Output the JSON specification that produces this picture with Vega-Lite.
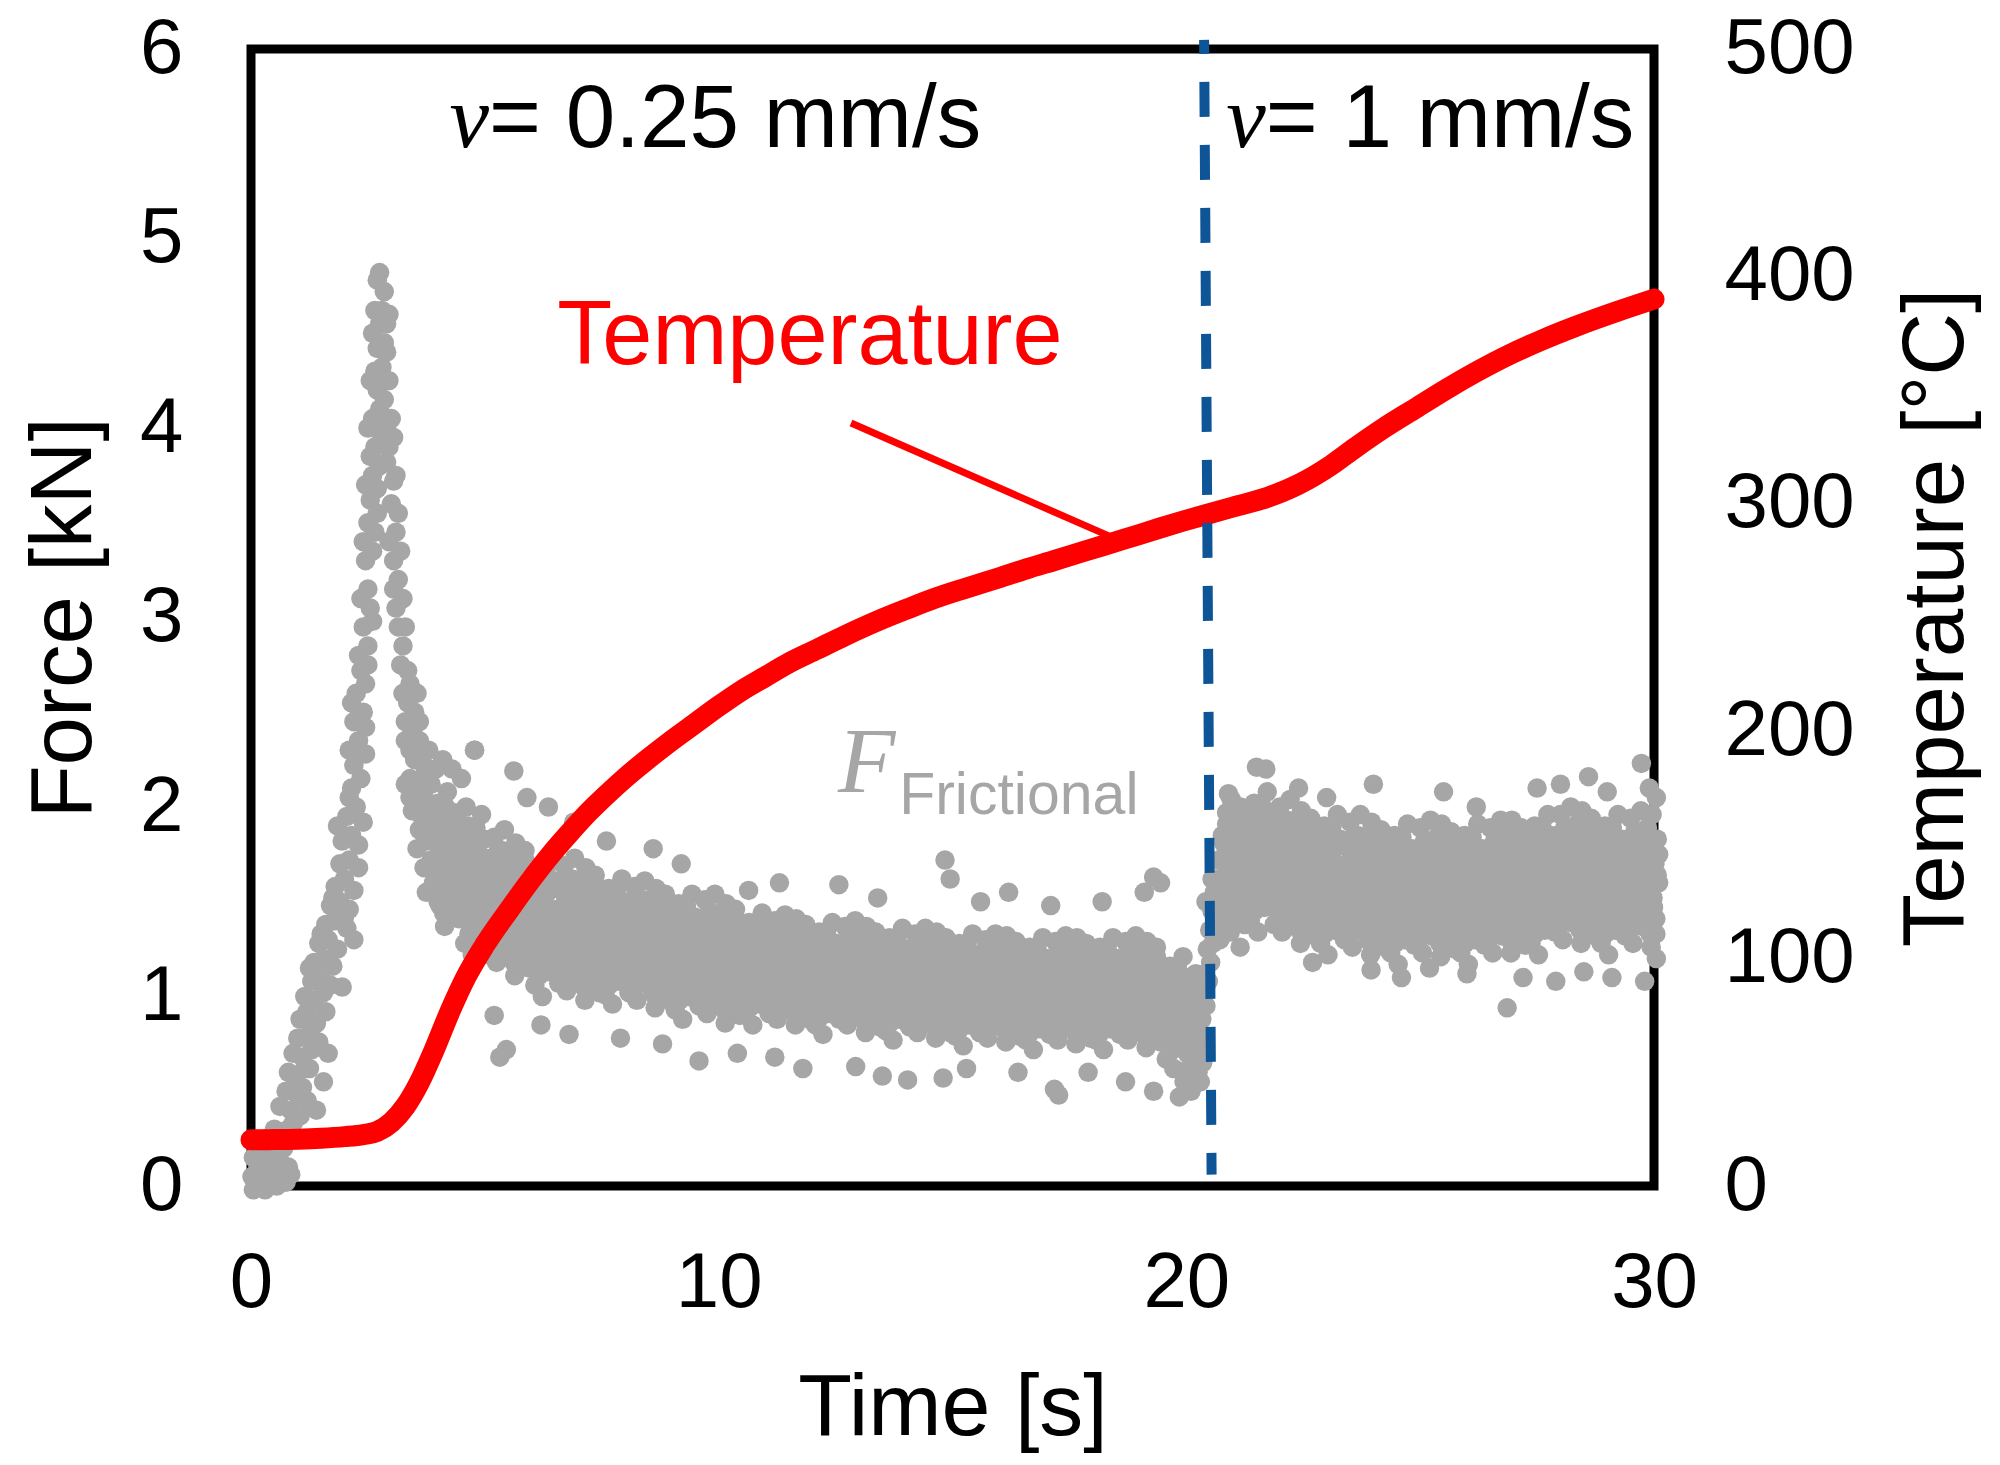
{
"$schema":"https://vega.github.io/schema/vega-lite/v6.json",
"width":1403,"height":1137,
"autosize":{"type":"none"},
"padding":{"left":251,"top":49,"right":346,"bottom":279},
"background":"white",
"config":{
"view":{"stroke":"#000000","strokeWidth":9},
"axis":{"domain":false,"ticks":false,"tickSize":0,"grid":false,"labelFont":"Liberation Sans","titleFont":"Liberation Sans","labelColor":"#000000","titleColor":"#000000","titleFontWeight":"normal","labelFontSize":78,"titleFontSize":87,"labelOverlap":false,"labelFlush":false}
},
"encoding":{
"x":{"field":"t","type":"quantitative","scale":{"domain":[0,30],"nice":false,"zero":false},"axis":{"values":[0,10,20,30],"title":"Time [s]","labelPadding":58,"titleFontSize":88,"titleX":701.5,"titleY":178.5,"titleBaseline":"top","titleAlign":"center"}}
},
"layer":[
{
"data":{"values":[
{"t":0.02,"f":0.05},{"t":0.05,"f":0.15},{"t":0.1,"f":0.02},{"t":0.15,"f":0.1},{"t":0.2,"f":0.2},{"t":0.25,"f":0.06},{"t":0.3,"f":-0.02},{"t":0.35,"f":0.12},{"t":0.4,"f":0.04},{"t":0.45,"f":0.18},{"t":0.5,"f":0.08},{"t":0.55,"f":0.0},{"t":0.6,"f":0.14},{"t":0.65,"f":0.05},{"t":0.7,"f":0.2},{"t":0.75,"f":0.02},{"t":0.8,"f":0.1},{"t":0.85,"f":0.06},{"t":0.12,"f":0.22},{"t":0.3,"f":0.25},{"t":0.6,"f":0.28},{"t":0.05,"f":-0.02},
{"t":0.5,"f":0.3},{"t":0.7,"f":0.26},{"t":0.9,"f":0.33},{"t":0.62,"f":0.42},{"t":0.85,"f":0.4},{"t":1.05,"f":0.37},{"t":0.75,"f":0.5},{"t":1.0,"f":0.48},{"t":1.2,"f":0.45},{"t":1.4,"f":0.4},
{"t":0.8,"f":0.6},{"t":0.95,"f":0.56},{"t":1.15,"f":0.62},{"t":1.55,"f":0.55},{"t":0.9,"f":0.7},{"t":1.1,"f":0.68},{"t":1.3,"f":0.72},{"t":1.65,"f":0.7},{"t":1.0,"f":0.78},{"t":1.25,"f":0.8},{"t":1.45,"f":0.76},
{"t":1.05,"f":0.88},{"t":1.2,"f":0.92},{"t":1.4,"f":0.86},{"t":1.15,"f":1.0},{"t":1.35,"f":0.98},{"t":1.55,"f":1.02},{"t":1.3,"f":1.08},{"t":1.5,"f":1.1},{"t":1.7,"f":1.06},{"t":1.95,"f":1.05},
{"t":1.35,"f":1.18},{"t":1.55,"f":1.2},{"t":1.75,"f":1.16},{"t":1.45,"f":1.28},{"t":1.65,"f":1.3},{"t":1.85,"f":1.25},{"t":1.6,"f":1.38},{"t":1.8,"f":1.4},{"t":2.05,"f":1.36},{"t":2.2,"f":1.3},
{"t":1.7,"f":1.48},{"t":1.9,"f":1.5},{"t":2.1,"f":1.46},{"t":1.8,"f":1.58},{"t":2.0,"f":1.62},{"t":2.2,"f":1.56},{"t":1.9,"f":1.7},{"t":2.1,"f":1.72},{"t":2.3,"f":1.68},
{"t":1.95,"f":1.82},{"t":2.15,"f":1.85},{"t":2.3,"f":1.8},{"t":2.05,"f":1.95},{"t":2.25,"f":2.0},{"t":2.4,"f":1.92},{"t":2.15,"f":2.1},{"t":2.35,"f":2.15},{"t":2.2,"f":2.22},
{"t":2.1,"f":2.3},{"t":2.3,"f":2.35},{"t":2.45,"f":2.28},{"t":2.2,"f":2.45},{"t":2.4,"f":2.5},{"t":2.25,"f":2.6},{"t":2.45,"f":2.65},{"t":2.35,"f":2.72},
{"t":2.3,"f":2.8},{"t":2.5,"f":2.85},{"t":2.4,"f":2.95},{"t":2.6,"f":2.98},
{"t":2.35,"f":3.1},{"t":2.5,"f":3.15},{"t":2.45,"f":3.3},{"t":2.6,"f":3.35},{"t":2.5,"f":3.5},{"t":2.55,"f":3.62},{"t":2.7,"f":3.55},
{"t":2.6,"f":3.75},{"t":2.75,"f":3.8},{"t":2.65,"f":3.9},{"t":2.8,"f":3.95},{"t":2.6,"f":4.05},{"t":2.75,"f":4.1},{"t":2.7,"f":4.2},{"t":2.85,"f":4.15},{"t":2.65,"f":4.3},{"t":2.8,"f":4.32},{"t":2.7,"f":4.42},{"t":2.85,"f":4.45},{"t":2.75,"f":4.55},{"t":2.8,"f":4.62},{"t":2.7,"f":4.78},{"t":2.75,"f":4.82},{"t":2.5,"f":4.0},{"t":2.55,"f":4.25},
{"t":0.55,"f":0.2},{"t":0.8,"f":0.3},{"t":1.1,"f":0.52},{"t":1.25,"f":0.62},{"t":1.35,"f":0.85},{"t":1.6,"f":0.92},{"t":1.25,"f":1.15},{"t":1.5,"f":1.33},{"t":1.75,"f":1.52},{"t":2.0,"f":1.42},{"t":1.85,"f":1.9},{"t":2.1,"f":2.05},{"t":2.3,"f":2.48},{"t":2.45,"f":2.42},{"t":2.15,"f":2.55},{"t":2.5,"f":2.75},{"t":2.55,"f":3.05},{"t":2.4,"f":3.4},{"t":2.65,"f":3.45},{"t":2.45,"f":3.7},{"t":2.55,"f":3.85},{"t":2.7,"f":3.68},{"t":2.9,"f":4.0},{"t":2.6,"f":4.5},{"t":2.9,"f":4.55},{"t":2.65,"f":4.62},{"t":2.85,"f":4.72},{"t":2.95,"f":4.6},
{"t":2.9,"f":4.4},{"t":2.95,"f":4.25},{"t":3.0,"f":4.05},{"t":2.95,"f":3.9},{"t":3.05,"f":3.72},{"t":2.9,"f":3.82},
{"t":3.0,"f":3.6},{"t":3.1,"f":3.45},{"t":3.05,"f":3.3},{"t":3.15,"f":3.2},{"t":3.1,"f":3.05},{"t":2.95,"f":3.4},
{"t":3.15,"f":2.95},{"t":3.25,"f":2.85},{"t":3.2,"f":2.75},{"t":3.35,"f":2.72},
{"t":3.25,"f":2.6},{"t":3.35,"f":2.55},{"t":3.3,"f":2.45},{"t":3.45,"f":2.4},{"t":3.4,"f":2.3},{"t":3.6,"f":2.35},{"t":3.5,"f":2.25},{"t":3.7,"f":2.22},{"t":3.3,"f":2.35},
{"t":3.4,"f":2.15},{"t":3.55,"f":2.1},{"t":3.7,"f":2.05},{"t":3.85,"f":2.12},{"t":3.5,"f":2.0},{"t":3.65,"f":1.95},{"t":3.8,"f":1.98},{"t":4.0,"f":2.02},{"t":4.2,"f":2.08},{"t":4.05,"f":1.92},{"t":4.4,"f":1.95},{"t":4.6,"f":2.0},{"t":4.78,"f":2.3},{"t":4.3,"f":2.2},{"t":3.95,"f":2.2},
{"t":3.3,"f":2.12},{"t":3.45,"f":1.98},{"t":3.6,"f":1.88},{"t":3.75,"f":1.82},{"t":3.85,"f":1.72},{"t":3.95,"f":1.65},{"t":3.55,"f":1.78},{"t":3.7,"f":1.68},{"t":3.4,"f":2.05},{"t":3.65,"f":2.15},{"t":3.8,"f":2.0},{"t":3.9,"f":1.9},{"t":4.0,"f":1.8},{"t":3.75,"f":1.55},
{"t":3.05,"f":3.95},{"t":3.1,"f":3.75},{"t":3.15,"f":3.55},{"t":3.2,"f":3.35},{"t":3.25,"f":3.1},{"t":3.3,"f":2.95},{"t":3.05,"f":3.15},{"t":3.4,"f":2.65},{"t":3.5,"f":2.5},{"t":3.55,"f":2.6},{"t":3.6,"f":2.45},{"t":3.8,"f":2.3},{"t":4.1,"f":2.25},{"t":4.5,"f":2.15},{"t":4.2,"f":1.45},{"t":4.0,"f":1.5},{"t":3.9,"f":1.6},
{"t":4.01,"f":1.73},{"t":4.04,"f":1.48},{"t":4.06,"f":1.94},{"t":4.09,"f":1.63},{"t":4.11,"f":1.82},{"t":4.14,"f":1.37},{"t":4.16,"f":2.0},{"t":4.19,"f":1.56},{"t":4.22,"f":1.77},{"t":4.24,"f":1.44},{"t":4.27,"f":1.88},{"t":4.3,"f":1.68},{"t":4.33,"f":1.53},{"t":4.36,"f":1.97},{"t":4.39,"f":1.61},{"t":4.42,"f":1.83},{"t":4.45,"f":1.41},{"t":4.48,"f":1.78},
{"t":4.52,"f":1.49},{"t":4.55,"f":1.79},{"t":4.57,"f":1.28},{"t":4.6,"f":1.68},{"t":4.63,"f":1.58},{"t":4.65,"f":1.9},{"t":4.68,"f":1.39},{"t":4.71,"f":1.73},{"t":4.73,"f":1.22},{"t":4.76,"f":1.62},{"t":4.79,"f":1.85},{"t":4.82,"f":1.51},{"t":4.84,"f":1.77},{"t":4.87,"f":1.35},{"t":4.9,"f":1.66},{"t":4.93,"f":1.96},{"t":4.96,"f":1.45},{"t":4.99,"f":1.83},
{"t":5.0,"f":1.73},{"t":5.03,"f":1.44},{"t":5.06,"f":1.61},{"t":5.08,"f":1.22},{"t":5.11,"f":1.5},{"t":5.14,"f":1.71},{"t":5.17,"f":1.35},{"t":5.2,"f":1.84},{"t":5.22,"f":1.46},{"t":5.25,"f":1.18},{"t":5.28,"f":1.65},{"t":5.31,"f":1.31},{"t":5.34,"f":1.58},{"t":5.36,"f":1.77},{"t":5.39,"f":1.39},{"t":5.42,"f":1.88},{"t":5.45,"f":1.27},{"t":5.48,"f":1.54},
{"t":5.51,"f":1.51},{"t":5.54,"f":1.22},{"t":5.56,"f":1.74},{"t":5.59,"f":1.39},{"t":5.61,"f":1.6},{"t":5.64,"f":1.11},{"t":5.66,"f":1.81},{"t":5.69,"f":1.32},{"t":5.72,"f":1.55},{"t":5.74,"f":1.18},{"t":5.77,"f":1.68},{"t":5.8,"f":1.45},{"t":5.83,"f":1.28},{"t":5.86,"f":1.77},{"t":5.89,"f":1.37},{"t":5.92,"f":1.62},{"t":5.95,"f":1.15},{"t":5.98,"f":1.56},
{"t":6.02,"f":1.27},{"t":6.05,"f":1.57},{"t":6.07,"f":1.06},{"t":6.1,"f":1.46},{"t":6.13,"f":1.36},{"t":6.15,"f":1.68},{"t":6.18,"f":1.17},{"t":6.21,"f":1.51},{"t":6.23,"f":1.0},{"t":6.26,"f":1.4},{"t":6.29,"f":1.63},{"t":6.32,"f":1.29},{"t":6.34,"f":1.55},{"t":6.37,"f":1.13},{"t":6.4,"f":1.44},{"t":6.43,"f":1.74},{"t":6.46,"f":1.23},{"t":6.49,"f":1.61},
{"t":6.5,"f":1.58},{"t":6.53,"f":1.29},{"t":6.56,"f":1.46},{"t":6.58,"f":1.07},{"t":6.61,"f":1.35},{"t":6.64,"f":1.56},{"t":6.67,"f":1.2},{"t":6.7,"f":1.69},{"t":6.72,"f":1.31},{"t":6.75,"f":1.03},{"t":6.78,"f":1.5},{"t":6.81,"f":1.16},{"t":6.84,"f":1.43},{"t":6.86,"f":1.62},{"t":6.89,"f":1.24},{"t":6.92,"f":1.73},{"t":6.95,"f":1.12},{"t":6.98,"f":1.39},
{"t":7.01,"f":1.38},{"t":7.04,"f":1.09},{"t":7.06,"f":1.61},{"t":7.09,"f":1.26},{"t":7.11,"f":1.47},{"t":7.14,"f":0.98},{"t":7.16,"f":1.68},{"t":7.19,"f":1.19},{"t":7.22,"f":1.42},{"t":7.24,"f":1.05},{"t":7.27,"f":1.55},{"t":7.3,"f":1.32},{"t":7.33,"f":1.15},{"t":7.36,"f":1.64},{"t":7.39,"f":1.24},{"t":7.42,"f":1.49},{"t":7.45,"f":1.02},{"t":7.48,"f":1.43},
{"t":7.52,"f":1.2},{"t":7.55,"f":1.47},{"t":7.57,"f":1.01},{"t":7.6,"f":1.37},{"t":7.63,"f":1.28},{"t":7.65,"f":1.57},{"t":7.68,"f":1.11},{"t":7.71,"f":1.42},{"t":7.73,"f":0.96},{"t":7.76,"f":1.32},{"t":7.79,"f":1.52},{"t":7.82,"f":1.22},{"t":7.84,"f":1.45},{"t":7.87,"f":1.08},{"t":7.9,"f":1.35},{"t":7.93,"f":1.62},{"t":7.96,"f":1.16},{"t":7.99,"f":1.5},
{"t":8.0,"f":1.47},{"t":8.03,"f":1.22},{"t":8.06,"f":1.37},{"t":8.08,"f":1.02},{"t":8.11,"f":1.27},{"t":8.14,"f":1.46},{"t":8.17,"f":1.13},{"t":8.2,"f":1.58},{"t":8.22,"f":1.24},{"t":8.25,"f":0.98},{"t":8.28,"f":1.41},{"t":8.31,"f":1.1},{"t":8.34,"f":1.34},{"t":8.36,"f":1.51},{"t":8.39,"f":1.17},{"t":8.42,"f":1.61},{"t":8.45,"f":1.07},{"t":8.48,"f":1.3},
{"t":8.51,"f":1.3},{"t":8.54,"f":1.05},{"t":8.56,"f":1.51},{"t":8.59,"f":1.2},{"t":8.61,"f":1.39},{"t":8.64,"f":0.94},{"t":8.66,"f":1.57},{"t":8.69,"f":1.13},{"t":8.72,"f":1.34},{"t":8.74,"f":1.01},{"t":8.77,"f":1.45},{"t":8.8,"f":1.25},{"t":8.83,"f":1.1},{"t":8.86,"f":1.54},{"t":8.89,"f":1.18},{"t":8.92,"f":1.4},{"t":8.95,"f":0.98},{"t":8.98,"f":1.35},
{"t":9.02,"f":1.12},{"t":9.05,"f":1.39},{"t":9.07,"f":0.93},{"t":9.1,"f":1.29},{"t":9.13,"f":1.2},{"t":9.15,"f":1.49},{"t":9.18,"f":1.03},{"t":9.21,"f":1.34},{"t":9.23,"f":0.88},{"t":9.26,"f":1.24},{"t":9.29,"f":1.44},{"t":9.32,"f":1.14},{"t":9.34,"f":1.37},{"t":9.37,"f":1.0},{"t":9.4,"f":1.27},{"t":9.43,"f":1.54},{"t":9.46,"f":1.08},{"t":9.49,"f":1.42},
{"t":9.5,"f":1.4},{"t":9.53,"f":1.15},{"t":9.56,"f":1.3},{"t":9.58,"f":0.95},{"t":9.61,"f":1.2},{"t":9.64,"f":1.39},{"t":9.67,"f":1.06},{"t":9.7,"f":1.51},{"t":9.72,"f":1.17},{"t":9.75,"f":0.91},{"t":9.78,"f":1.34},{"t":9.81,"f":1.03},{"t":9.84,"f":1.27},{"t":9.86,"f":1.44},{"t":9.89,"f":1.1},{"t":9.92,"f":1.54},{"t":9.95,"f":1.0},{"t":9.98,"f":1.23},
{"t":10.01,"f":1.22},{"t":10.04,"f":0.97},{"t":10.06,"f":1.43},{"t":10.09,"f":1.12},{"t":10.11,"f":1.31},{"t":10.14,"f":0.86},{"t":10.16,"f":1.49},{"t":10.19,"f":1.05},{"t":10.22,"f":1.26},{"t":10.24,"f":0.93},{"t":10.27,"f":1.37},{"t":10.3,"f":1.17},{"t":10.33,"f":1.02},{"t":10.36,"f":1.46},{"t":10.39,"f":1.1},{"t":10.42,"f":1.32},{"t":10.45,"f":0.9},{"t":10.48,"f":1.27},
{"t":10.52,"f":1.06},{"t":10.55,"f":1.3},{"t":10.57,"f":0.9},{"t":10.6,"f":1.21},{"t":10.63,"f":1.14},{"t":10.65,"f":1.39},{"t":10.68,"f":0.99},{"t":10.71,"f":1.26},{"t":10.73,"f":0.85},{"t":10.76,"f":1.17},{"t":10.79,"f":1.35},{"t":10.82,"f":1.08},{"t":10.84,"f":1.29},{"t":10.87,"f":0.96},{"t":10.9,"f":1.2},{"t":10.93,"f":1.44},{"t":10.96,"f":1.03},{"t":10.99,"f":1.33},
{"t":11.0,"f":1.31},{"t":11.03,"f":1.09},{"t":11.06,"f":1.22},{"t":11.08,"f":0.91},{"t":11.11,"f":1.13},{"t":11.14,"f":1.3},{"t":11.17,"f":1.01},{"t":11.2,"f":1.4},{"t":11.22,"f":1.1},{"t":11.25,"f":0.88},{"t":11.28,"f":1.25},{"t":11.31,"f":0.98},{"t":11.34,"f":1.19},{"t":11.36,"f":1.34},{"t":11.39,"f":1.04},{"t":11.42,"f":1.43},{"t":11.45,"f":0.95},{"t":11.48,"f":1.16},
{"t":11.51,"f":1.17},{"t":11.54,"f":0.94},{"t":11.56,"f":1.35},{"t":11.59,"f":1.08},{"t":11.61,"f":1.24},{"t":11.64,"f":0.85},{"t":11.66,"f":1.41},{"t":11.69,"f":1.02},{"t":11.72,"f":1.2},{"t":11.74,"f":0.91},{"t":11.77,"f":1.3},{"t":11.8,"f":1.12},{"t":11.83,"f":0.99},{"t":11.86,"f":1.38},{"t":11.89,"f":1.06},{"t":11.92,"f":1.26},{"t":11.95,"f":0.88},{"t":11.98,"f":1.21},
{"t":12.02,"f":1.01},{"t":12.05,"f":1.25},{"t":12.07,"f":0.85},{"t":12.1,"f":1.16},{"t":12.13,"f":1.09},{"t":12.15,"f":1.34},{"t":12.18,"f":0.94},{"t":12.21,"f":1.21},{"t":12.23,"f":0.8},{"t":12.26,"f":1.12},{"t":12.29,"f":1.3},{"t":12.32,"f":1.03},{"t":12.34,"f":1.24},{"t":12.37,"f":0.91},{"t":12.4,"f":1.15},{"t":12.43,"f":1.39},{"t":12.46,"f":0.98},{"t":12.49,"f":1.28},
{"t":12.5,"f":1.28},{"t":12.53,"f":1.06},{"t":12.56,"f":1.19},{"t":12.58,"f":0.88},{"t":12.61,"f":1.1},{"t":12.64,"f":1.27},{"t":12.67,"f":0.98},{"t":12.7,"f":1.37},{"t":12.72,"f":1.07},{"t":12.75,"f":0.85},{"t":12.78,"f":1.22},{"t":12.81,"f":0.95},{"t":12.84,"f":1.16},{"t":12.86,"f":1.31},{"t":12.89,"f":1.01},{"t":12.92,"f":1.4},{"t":12.95,"f":0.92},{"t":12.98,"f":1.13},
{"t":13.01,"f":1.13},{"t":13.04,"f":0.9},{"t":13.06,"f":1.31},{"t":13.09,"f":1.04},{"t":13.11,"f":1.2},{"t":13.14,"f":0.81},{"t":13.16,"f":1.37},{"t":13.19,"f":0.98},{"t":13.22,"f":1.16},{"t":13.24,"f":0.87},{"t":13.27,"f":1.26},{"t":13.3,"f":1.08},{"t":13.33,"f":0.95},{"t":13.36,"f":1.34},{"t":13.39,"f":1.02},{"t":13.42,"f":1.22},{"t":13.45,"f":0.84},{"t":13.48,"f":1.17},
{"t":13.52,"f":0.98},{"t":13.55,"f":1.22},{"t":13.57,"f":0.82},{"t":13.6,"f":1.13},{"t":13.63,"f":1.06},{"t":13.65,"f":1.31},{"t":13.68,"f":0.91},{"t":13.71,"f":1.18},{"t":13.73,"f":0.77},{"t":13.76,"f":1.09},{"t":13.79,"f":1.27},{"t":13.82,"f":1.0},{"t":13.84,"f":1.21},{"t":13.87,"f":0.88},{"t":13.9,"f":1.12},{"t":13.93,"f":1.36},{"t":13.96,"f":0.95},{"t":13.99,"f":1.25},
{"t":14.0,"f":1.24},{"t":14.03,"f":1.02},{"t":14.06,"f":1.15},{"t":14.08,"f":0.84},{"t":14.11,"f":1.06},{"t":14.14,"f":1.23},{"t":14.17,"f":0.94},{"t":14.2,"f":1.33},{"t":14.22,"f":1.03},{"t":14.25,"f":0.81},{"t":14.28,"f":1.18},{"t":14.31,"f":0.91},{"t":14.34,"f":1.12},{"t":14.36,"f":1.27},{"t":14.39,"f":0.97},{"t":14.42,"f":1.36},{"t":14.45,"f":0.88},{"t":14.48,"f":1.09},
{"t":14.51,"f":1.1},{"t":14.54,"f":0.87},{"t":14.56,"f":1.28},{"t":14.59,"f":1.01},{"t":14.61,"f":1.17},{"t":14.64,"f":0.78},{"t":14.66,"f":1.34},{"t":14.69,"f":0.95},{"t":14.72,"f":1.13},{"t":14.74,"f":0.84},{"t":14.77,"f":1.23},{"t":14.8,"f":1.05},{"t":14.83,"f":0.92},{"t":14.86,"f":1.31},{"t":14.89,"f":0.99},{"t":14.92,"f":1.19},{"t":14.95,"f":0.81},{"t":14.98,"f":1.14},
{"t":15.02,"f":0.95},{"t":15.05,"f":1.19},{"t":15.07,"f":0.79},{"t":15.1,"f":1.1},{"t":15.13,"f":1.03},{"t":15.15,"f":1.28},{"t":15.18,"f":0.88},{"t":15.21,"f":1.15},{"t":15.23,"f":0.74},{"t":15.26,"f":1.06},{"t":15.29,"f":1.24},{"t":15.32,"f":0.97},{"t":15.34,"f":1.18},{"t":15.37,"f":0.85},{"t":15.4,"f":1.09},{"t":15.43,"f":1.33},{"t":15.46,"f":0.92},{"t":15.49,"f":1.22},
{"t":15.5,"f":1.21},{"t":15.53,"f":0.99},{"t":15.56,"f":1.12},{"t":15.58,"f":0.81},{"t":15.61,"f":1.03},{"t":15.64,"f":1.2},{"t":15.67,"f":0.91},{"t":15.7,"f":1.3},{"t":15.72,"f":1.0},{"t":15.75,"f":0.78},{"t":15.78,"f":1.15},{"t":15.81,"f":0.88},{"t":15.84,"f":1.09},{"t":15.86,"f":1.24},{"t":15.89,"f":0.94},{"t":15.92,"f":1.33},{"t":15.95,"f":0.85},{"t":15.98,"f":1.06},
{"t":16.01,"f":1.08},{"t":16.04,"f":0.85},{"t":16.06,"f":1.26},{"t":16.09,"f":0.99},{"t":16.11,"f":1.15},{"t":16.14,"f":0.76},{"t":16.16,"f":1.32},{"t":16.19,"f":0.93},{"t":16.22,"f":1.11},{"t":16.24,"f":0.82},{"t":16.27,"f":1.21},{"t":16.3,"f":1.03},{"t":16.33,"f":0.9},{"t":16.36,"f":1.29},{"t":16.39,"f":0.97},{"t":16.42,"f":1.17},{"t":16.45,"f":0.79},{"t":16.48,"f":1.12},
{"t":16.52,"f":0.93},{"t":16.55,"f":1.17},{"t":16.57,"f":0.77},{"t":16.6,"f":1.08},{"t":16.63,"f":1.01},{"t":16.65,"f":1.26},{"t":16.68,"f":0.86},{"t":16.71,"f":1.13},{"t":16.73,"f":0.72},{"t":16.76,"f":1.04},{"t":16.79,"f":1.22},{"t":16.82,"f":0.95},{"t":16.84,"f":1.16},{"t":16.87,"f":0.83},{"t":16.9,"f":1.07},{"t":16.93,"f":1.31},{"t":16.96,"f":0.9},{"t":16.99,"f":1.2},
{"t":17.0,"f":1.2},{"t":17.03,"f":0.98},{"t":17.06,"f":1.11},{"t":17.08,"f":0.8},{"t":17.11,"f":1.02},{"t":17.14,"f":1.19},{"t":17.17,"f":0.9},{"t":17.2,"f":1.29},{"t":17.22,"f":0.99},{"t":17.25,"f":0.77},{"t":17.28,"f":1.14},{"t":17.31,"f":0.87},{"t":17.34,"f":1.08},{"t":17.36,"f":1.23},{"t":17.39,"f":0.93},{"t":17.42,"f":1.32},{"t":17.45,"f":0.84},{"t":17.48,"f":1.05},
{"t":17.51,"f":1.07},{"t":17.54,"f":0.84},{"t":17.56,"f":1.25},{"t":17.59,"f":0.98},{"t":17.61,"f":1.14},{"t":17.64,"f":0.75},{"t":17.66,"f":1.31},{"t":17.69,"f":0.92},{"t":17.72,"f":1.1},{"t":17.74,"f":0.81},{"t":17.77,"f":1.2},{"t":17.8,"f":1.02},{"t":17.83,"f":0.89},{"t":17.86,"f":1.28},{"t":17.89,"f":0.96},{"t":17.92,"f":1.16},{"t":17.95,"f":0.78},{"t":17.98,"f":1.11},
{"t":18.02,"f":0.93},{"t":18.05,"f":1.17},{"t":18.07,"f":0.77},{"t":18.1,"f":1.08},{"t":18.13,"f":1.01},{"t":18.15,"f":1.26},{"t":18.18,"f":0.86},{"t":18.21,"f":1.13},{"t":18.23,"f":0.72},{"t":18.26,"f":1.04},{"t":18.29,"f":1.22},{"t":18.32,"f":0.95},{"t":18.34,"f":1.16},{"t":18.37,"f":0.83},{"t":18.4,"f":1.07},{"t":18.43,"f":1.31},{"t":18.46,"f":0.9},{"t":18.49,"f":1.2},
{"t":18.5,"f":1.2},{"t":18.53,"f":0.98},{"t":18.56,"f":1.11},{"t":18.58,"f":0.8},{"t":18.61,"f":1.02},{"t":18.64,"f":1.19},{"t":18.67,"f":0.9},{"t":18.7,"f":1.29},{"t":18.72,"f":0.99},{"t":18.75,"f":0.77},{"t":18.78,"f":1.14},{"t":18.81,"f":0.87},{"t":18.84,"f":1.08},{"t":18.86,"f":1.23},{"t":18.89,"f":0.93},{"t":18.92,"f":1.32},{"t":18.95,"f":0.84},{"t":18.98,"f":1.05},
{"t":19.01,"f":1.05},{"t":19.04,"f":0.82},{"t":19.06,"f":1.23},{"t":19.09,"f":0.96},{"t":19.11,"f":1.12},{"t":19.14,"f":0.73},{"t":19.16,"f":1.29},{"t":19.19,"f":0.9},{"t":19.22,"f":1.08},{"t":19.24,"f":0.79},{"t":19.27,"f":1.18},{"t":19.3,"f":1.0},{"t":19.33,"f":0.87},{"t":19.36,"f":1.26},{"t":19.39,"f":0.94},{"t":19.42,"f":1.14},{"t":19.45,"f":0.76},{"t":19.48,"f":1.09},
{"t":19.52,"f":0.83},{"t":19.55,"f":1.07},{"t":19.57,"f":0.67},{"t":19.6,"f":0.98},{"t":19.63,"f":0.91},{"t":19.65,"f":1.16},{"t":19.68,"f":0.76},{"t":19.71,"f":1.03},{"t":19.73,"f":0.62},{"t":19.76,"f":0.94},{"t":19.79,"f":1.12},{"t":19.82,"f":0.85},{"t":19.84,"f":1.06},{"t":19.87,"f":0.73},{"t":19.9,"f":0.97},{"t":19.93,"f":1.21},{"t":19.96,"f":0.8},{"t":19.99,"f":1.1},
{"t":20.0,"f":1.03},{"t":20.03,"f":0.81},{"t":20.06,"f":0.94},{"t":20.08,"f":0.63},{"t":20.11,"f":0.85},{"t":20.14,"f":1.02},{"t":20.17,"f":0.73},{"t":20.2,"f":1.12},{"t":20.22,"f":0.82},{"t":20.25,"f":0.6},{"t":20.28,"f":0.97},{"t":20.31,"f":0.7},
{"t":20.33,"f":0.88},{"t":20.36,"f":1.02},{"t":20.38,"f":0.78},{"t":20.4,"f":1.12},{"t":20.42,"f":0.95},{"t":20.45,"f":1.25},{"t":20.47,"f":1.08},{"t":20.5,"f":1.35},{"t":20.52,"f":1.18},{"t":20.55,"f":1.45},{"t":20.57,"f":1.28},{"t":20.6,"f":1.55},{"t":20.62,"f":1.38},{"t":20.65,"f":1.62},{"t":20.68,"f":1.48},{"t":20.7,"f":1.72},{"t":20.72,"f":1.3},{"t":20.75,"f":1.58},{"t":20.77,"f":1.85},{"t":20.42,"f":1.5},{"t":20.3,"f":0.55},{"t":20.35,"f":0.65},{"t":20.55,"f":1.62},
{"t":20.81,"f":1.74},{"t":20.84,"f":1.45},{"t":20.86,"f":1.97},{"t":20.89,"f":1.62},{"t":20.91,"f":1.83},{"t":20.94,"f":1.34},{"t":20.96,"f":2.04},{"t":20.99,"f":1.55},{"t":21.02,"f":1.78},{"t":21.04,"f":1.41},{"t":21.07,"f":1.91},{"t":21.1,"f":1.68},{"t":21.13,"f":1.51},{"t":21.16,"f":2.0},{"t":21.19,"f":1.6},{"t":21.22,"f":1.85},{"t":21.25,"f":1.38},{"t":21.28,"f":1.79},
{"t":21.32,"f":1.61},{"t":21.35,"f":1.91},{"t":21.37,"f":1.4},{"t":21.4,"f":1.8},{"t":21.43,"f":1.7},{"t":21.45,"f":2.02},{"t":21.48,"f":1.51},{"t":21.51,"f":1.85},{"t":21.53,"f":1.34},{"t":21.56,"f":1.74},{"t":21.59,"f":1.97},{"t":21.62,"f":1.63},{"t":21.64,"f":1.89},{"t":21.67,"f":1.47},{"t":21.7,"f":1.78},{"t":21.73,"f":2.08},{"t":21.76,"f":1.57},{"t":21.79,"f":1.95},
{"t":21.8,"f":1.89},{"t":21.83,"f":1.6},{"t":21.86,"f":1.77},{"t":21.88,"f":1.38},{"t":21.91,"f":1.66},{"t":21.94,"f":1.87},{"t":21.97,"f":1.51},{"t":22.0,"f":2.0},{"t":22.02,"f":1.62},{"t":22.05,"f":1.34},{"t":22.08,"f":1.81},{"t":22.11,"f":1.47},{"t":22.14,"f":1.74},{"t":22.16,"f":1.93},{"t":22.19,"f":1.55},{"t":22.22,"f":2.04},{"t":22.25,"f":1.43},{"t":22.28,"f":1.7},
{"t":22.31,"f":1.68},{"t":22.34,"f":1.39},{"t":22.36,"f":1.91},{"t":22.39,"f":1.56},{"t":22.41,"f":1.77},{"t":22.44,"f":1.28},{"t":22.46,"f":1.98},{"t":22.49,"f":1.49},{"t":22.52,"f":1.72},{"t":22.54,"f":1.35},{"t":22.57,"f":1.85},{"t":22.6,"f":1.62},{"t":22.63,"f":1.45},{"t":22.66,"f":1.94},{"t":22.69,"f":1.54},{"t":22.72,"f":1.79},{"t":22.75,"f":1.32},{"t":22.78,"f":1.73},
{"t":22.82,"f":1.49},{"t":22.85,"f":1.79},{"t":22.87,"f":1.28},{"t":22.9,"f":1.68},{"t":22.93,"f":1.58},{"t":22.95,"f":1.9},{"t":22.98,"f":1.39},{"t":23.01,"f":1.73},{"t":23.03,"f":1.22},{"t":23.06,"f":1.62},{"t":23.09,"f":1.85},{"t":23.12,"f":1.51},{"t":23.14,"f":1.77},{"t":23.17,"f":1.35},{"t":23.2,"f":1.66},{"t":23.23,"f":1.96},{"t":23.26,"f":1.45},{"t":23.29,"f":1.83},
{"t":23.3,"f":1.81},{"t":23.33,"f":1.52},{"t":23.36,"f":1.69},{"t":23.38,"f":1.3},{"t":23.41,"f":1.58},{"t":23.44,"f":1.79},{"t":23.47,"f":1.43},{"t":23.5,"f":1.92},{"t":23.52,"f":1.54},{"t":23.55,"f":1.26},{"t":23.58,"f":1.73},{"t":23.61,"f":1.39},{"t":23.64,"f":1.66},{"t":23.66,"f":1.85},{"t":23.69,"f":1.47},{"t":23.72,"f":1.96},{"t":23.75,"f":1.35},{"t":23.78,"f":1.62},
{"t":23.81,"f":1.62},{"t":23.84,"f":1.33},{"t":23.86,"f":1.85},{"t":23.89,"f":1.5},{"t":23.91,"f":1.71},{"t":23.94,"f":1.22},{"t":23.96,"f":1.92},{"t":23.99,"f":1.43},{"t":24.02,"f":1.66},{"t":24.04,"f":1.29},{"t":24.07,"f":1.79},{"t":24.1,"f":1.56},{"t":24.13,"f":1.39},{"t":24.16,"f":1.88},{"t":24.19,"f":1.48},{"t":24.22,"f":1.73},{"t":24.25,"f":1.26},{"t":24.28,"f":1.67},
{"t":24.32,"f":1.44},{"t":24.35,"f":1.74},{"t":24.37,"f":1.23},{"t":24.4,"f":1.63},{"t":24.43,"f":1.53},{"t":24.45,"f":1.85},{"t":24.48,"f":1.34},{"t":24.51,"f":1.68},{"t":24.53,"f":1.17},{"t":24.56,"f":1.57},{"t":24.59,"f":1.8},{"t":24.62,"f":1.46},{"t":24.64,"f":1.72},{"t":24.67,"f":1.3},{"t":24.7,"f":1.61},{"t":24.73,"f":1.91},{"t":24.76,"f":1.4},{"t":24.79,"f":1.78},
{"t":24.8,"f":1.78},{"t":24.83,"f":1.49},{"t":24.86,"f":1.66},{"t":24.88,"f":1.27},{"t":24.91,"f":1.55},{"t":24.94,"f":1.76},{"t":24.97,"f":1.4},{"t":25.0,"f":1.89},{"t":25.02,"f":1.51},{"t":25.05,"f":1.23},{"t":25.08,"f":1.7},{"t":25.11,"f":1.36},{"t":25.14,"f":1.63},{"t":25.16,"f":1.82},{"t":25.19,"f":1.44},{"t":25.22,"f":1.93},{"t":25.25,"f":1.32},{"t":25.28,"f":1.59},
{"t":25.31,"f":1.61},{"t":25.34,"f":1.32},{"t":25.36,"f":1.84},{"t":25.39,"f":1.49},{"t":25.41,"f":1.7},{"t":25.44,"f":1.21},{"t":25.46,"f":1.91},{"t":25.49,"f":1.42},{"t":25.52,"f":1.65},{"t":25.54,"f":1.28},{"t":25.57,"f":1.78},{"t":25.6,"f":1.55},{"t":25.63,"f":1.38},{"t":25.66,"f":1.87},{"t":25.69,"f":1.47},{"t":25.72,"f":1.72},{"t":25.75,"f":1.25},{"t":25.78,"f":1.66},
{"t":25.82,"f":1.44},{"t":25.85,"f":1.74},{"t":25.87,"f":1.23},{"t":25.9,"f":1.63},{"t":25.93,"f":1.53},{"t":25.95,"f":1.85},{"t":25.98,"f":1.34},{"t":26.01,"f":1.68},{"t":26.03,"f":1.17},{"t":26.06,"f":1.57},{"t":26.09,"f":1.8},{"t":26.12,"f":1.46},{"t":26.14,"f":1.72},{"t":26.17,"f":1.3},{"t":26.2,"f":1.61},{"t":26.23,"f":1.91},{"t":26.26,"f":1.4},{"t":26.29,"f":1.78},
{"t":26.3,"f":1.78},{"t":26.33,"f":1.49},{"t":26.36,"f":1.66},{"t":26.38,"f":1.27},{"t":26.41,"f":1.55},{"t":26.44,"f":1.76},{"t":26.47,"f":1.4},{"t":26.5,"f":1.89},{"t":26.52,"f":1.51},{"t":26.55,"f":1.23},{"t":26.58,"f":1.7},{"t":26.61,"f":1.36},{"t":26.64,"f":1.63},{"t":26.66,"f":1.82},{"t":26.69,"f":1.44},{"t":26.72,"f":1.93},{"t":26.75,"f":1.32},{"t":26.78,"f":1.59},
{"t":26.81,"f":1.63},{"t":26.84,"f":1.34},{"t":26.86,"f":1.86},{"t":26.89,"f":1.51},{"t":26.91,"f":1.72},{"t":26.94,"f":1.23},{"t":26.96,"f":1.93},{"t":26.99,"f":1.44},{"t":27.02,"f":1.67},{"t":27.04,"f":1.3},{"t":27.07,"f":1.8},{"t":27.1,"f":1.57},{"t":27.13,"f":1.4},{"t":27.16,"f":1.89},{"t":27.19,"f":1.49},{"t":27.22,"f":1.74},{"t":27.25,"f":1.27},{"t":27.28,"f":1.68},
{"t":27.32,"f":1.49},{"t":27.35,"f":1.79},{"t":27.37,"f":1.28},{"t":27.4,"f":1.68},{"t":27.43,"f":1.58},{"t":27.45,"f":1.9},{"t":27.48,"f":1.39},{"t":27.51,"f":1.73},{"t":27.53,"f":1.22},{"t":27.56,"f":1.62},{"t":27.59,"f":1.85},{"t":27.62,"f":1.51},{"t":27.64,"f":1.77},{"t":27.67,"f":1.35},{"t":27.7,"f":1.66},{"t":27.73,"f":1.96},{"t":27.76,"f":1.45},{"t":27.79,"f":1.83},
{"t":27.8,"f":1.85},{"t":27.83,"f":1.56},{"t":27.86,"f":1.73},{"t":27.88,"f":1.34},{"t":27.91,"f":1.62},{"t":27.94,"f":1.83},{"t":27.97,"f":1.47},{"t":28.0,"f":1.96},{"t":28.02,"f":1.58},{"t":28.05,"f":1.3},{"t":28.08,"f":1.77},{"t":28.11,"f":1.43},{"t":28.14,"f":1.7},{"t":28.16,"f":1.89},{"t":28.19,"f":1.51},{"t":28.22,"f":2.0},{"t":28.25,"f":1.39},{"t":28.28,"f":1.66},
{"t":28.31,"f":1.68},{"t":28.34,"f":1.39},{"t":28.36,"f":1.91},{"t":28.39,"f":1.56},{"t":28.41,"f":1.77},{"t":28.44,"f":1.28},{"t":28.46,"f":1.98},{"t":28.49,"f":1.49},{"t":28.52,"f":1.72},{"t":28.54,"f":1.35},{"t":28.57,"f":1.85},{"t":28.6,"f":1.62},{"t":28.63,"f":1.45},{"t":28.66,"f":1.94},{"t":28.69,"f":1.54},{"t":28.72,"f":1.79},{"t":28.75,"f":1.32},{"t":28.78,"f":1.73},
{"t":28.82,"f":1.49},{"t":28.85,"f":1.79},{"t":28.87,"f":1.28},{"t":28.9,"f":1.68},{"t":28.93,"f":1.58},{"t":28.95,"f":1.9},{"t":28.98,"f":1.39},{"t":29.01,"f":1.73},{"t":29.03,"f":1.22},{"t":29.06,"f":1.62},{"t":29.09,"f":1.85},{"t":29.12,"f":1.51},{"t":29.14,"f":1.77},{"t":29.17,"f":1.35},{"t":29.2,"f":1.66},{"t":29.23,"f":1.96},{"t":29.26,"f":1.45},{"t":29.29,"f":1.83},
{"t":29.3,"f":1.83},{"t":29.33,"f":1.54},{"t":29.36,"f":1.71},{"t":29.38,"f":1.32},{"t":29.41,"f":1.6},{"t":29.44,"f":1.81},{"t":29.47,"f":1.45},{"t":29.5,"f":1.94},{"t":29.52,"f":1.56},{"t":29.55,"f":1.28},{"t":29.58,"f":1.75},{"t":29.61,"f":1.41},{"t":29.64,"f":1.68},{"t":29.66,"f":1.87},{"t":29.69,"f":1.49},{"t":29.72,"f":1.98},{"t":29.75,"f":1.37},{"t":29.78,"f":1.64},
{"t":29.81,"f":1.66},{"t":29.84,"f":1.37},{"t":29.86,"f":1.89},{"t":29.89,"f":1.54},{"t":29.91,"f":1.75},{"t":29.94,"f":1.26},{"t":29.96,"f":1.96},{"t":29.99,"f":1.47},{"t":30.02,"f":1.7},{"t":30.04,"f":1.33},{"t":30.07,"f":1.83},{"t":30.1,"f":1.6},
{"t":4.0,"f":1.8},{"t":4.03,"f":1.54},{"t":4.06,"f":1.88},{"t":4.09,"f":1.68},{"t":4.12,"f":1.44},{"t":4.15,"f":1.77},{"t":4.18,"f":1.61},{"t":4.21,"f":1.87},{"t":4.24,"f":1.51},{"t":4.27,"f":1.71},{"t":4.3,"f":1.82},{"t":4.33,"f":1.58},{"t":4.36,"f":1.92},{"t":4.39,"f":1.66},{"t":4.42,"f":1.48},{"t":4.45,"f":1.78},
{"t":4.51,"f":1.6},{"t":4.54,"f":1.85},{"t":4.57,"f":1.43},{"t":4.6,"f":1.71},{"t":4.63,"f":1.54},{"t":4.66,"f":1.33},{"t":4.69,"f":1.79},{"t":4.72,"f":1.64},{"t":4.75,"f":1.47},{"t":4.78,"f":1.75},{"t":4.81,"f":1.89},{"t":4.84,"f":1.39},{"t":4.87,"f":1.68},{"t":4.9,"f":1.51},{"t":4.93,"f":1.83},{"t":4.96,"f":1.56},
{"t":5.02,"f":1.31},{"t":5.05,"f":1.61},{"t":5.08,"f":1.52},{"t":5.11,"f":1.41},{"t":5.14,"f":1.73},{"t":5.17,"f":1.25},{"t":5.2,"f":1.56},{"t":5.23,"f":1.67},{"t":5.26,"f":1.46},{"t":5.29,"f":1.77},{"t":5.32,"f":1.33},{"t":5.35,"f":1.58},{"t":5.38,"f":1.39},{"t":5.41,"f":1.69},{"t":5.44,"f":1.52},{"t":5.47,"f":1.27},
{"t":5.5,"f":1.58},{"t":5.53,"f":1.3},{"t":5.56,"f":1.68},{"t":5.59,"f":1.45},{"t":5.62,"f":1.18},{"t":5.65,"f":1.55},{"t":5.68,"f":1.37},{"t":5.71,"f":1.66},{"t":5.74,"f":1.26},{"t":5.77,"f":1.49},{"t":5.8,"f":1.6},{"t":5.83,"f":1.34},{"t":5.86,"f":1.72},{"t":5.89,"f":1.43},{"t":5.92,"f":1.22},{"t":5.95,"f":1.56},
{"t":6.01,"f":1.38},{"t":6.04,"f":1.63},{"t":6.07,"f":1.21},{"t":6.1,"f":1.49},{"t":6.13,"f":1.32},{"t":6.16,"f":1.11},{"t":6.19,"f":1.57},{"t":6.22,"f":1.42},{"t":6.25,"f":1.25},{"t":6.28,"f":1.53},{"t":6.31,"f":1.67},{"t":6.34,"f":1.17},{"t":6.37,"f":1.46},{"t":6.4,"f":1.29},{"t":6.43,"f":1.61},{"t":6.46,"f":1.34},
{"t":6.52,"f":1.16},{"t":6.55,"f":1.46},{"t":6.58,"f":1.37},{"t":6.61,"f":1.26},{"t":6.64,"f":1.58},{"t":6.67,"f":1.1},{"t":6.7,"f":1.41},{"t":6.73,"f":1.52},{"t":6.76,"f":1.31},{"t":6.79,"f":1.62},{"t":6.82,"f":1.18},{"t":6.85,"f":1.43},{"t":6.88,"f":1.24},{"t":6.91,"f":1.54},{"t":6.94,"f":1.37},{"t":6.97,"f":1.12},
{"t":7.0,"f":1.45},{"t":7.03,"f":1.17},{"t":7.06,"f":1.55},{"t":7.09,"f":1.32},{"t":7.12,"f":1.05},{"t":7.15,"f":1.42},{"t":7.18,"f":1.24},{"t":7.21,"f":1.53},{"t":7.24,"f":1.13},{"t":7.27,"f":1.36},{"t":7.3,"f":1.47},{"t":7.33,"f":1.21},{"t":7.36,"f":1.59},{"t":7.39,"f":1.3},{"t":7.42,"f":1.09},{"t":7.45,"f":1.43},
{"t":7.51,"f":1.3},{"t":7.54,"f":1.52},{"t":7.57,"f":1.15},{"t":7.6,"f":1.4},{"t":7.63,"f":1.25},{"t":7.66,"f":1.06},{"t":7.69,"f":1.47},{"t":7.72,"f":1.33},{"t":7.75,"f":1.18},{"t":7.78,"f":1.44},{"t":7.81,"f":1.56},{"t":7.84,"f":1.11},{"t":7.87,"f":1.37},{"t":7.9,"f":1.22},{"t":7.93,"f":1.5},{"t":7.96,"f":1.27},
{"t":8.02,"f":1.1},{"t":8.05,"f":1.37},{"t":8.08,"f":1.29},{"t":8.11,"f":1.19},{"t":8.14,"f":1.47},{"t":8.17,"f":1.05},{"t":8.2,"f":1.32},{"t":8.23,"f":1.42},{"t":8.26,"f":1.24},{"t":8.29,"f":1.51},{"t":8.32,"f":1.12},{"t":8.35,"f":1.34},{"t":8.38,"f":1.17},{"t":8.41,"f":1.44},{"t":8.44,"f":1.29},{"t":8.47,"f":1.07},
{"t":8.5,"f":1.37},{"t":8.53,"f":1.11},{"t":8.56,"f":1.45},{"t":8.59,"f":1.25},{"t":8.62,"f":1.01},{"t":8.65,"f":1.34},{"t":8.68,"f":1.18},{"t":8.71,"f":1.44},{"t":8.74,"f":1.08},{"t":8.77,"f":1.28},{"t":8.8,"f":1.39},{"t":8.83,"f":1.15},{"t":8.86,"f":1.49},{"t":8.89,"f":1.23},{"t":8.92,"f":1.05},{"t":8.95,"f":1.35},
{"t":9.01,"f":1.22},{"t":9.04,"f":1.44},{"t":9.07,"f":1.07},{"t":9.1,"f":1.32},{"t":9.13,"f":1.17},{"t":9.16,"f":0.98},{"t":9.19,"f":1.39},{"t":9.22,"f":1.25},{"t":9.25,"f":1.1},{"t":9.28,"f":1.36},{"t":9.31,"f":1.48},{"t":9.34,"f":1.03},{"t":9.37,"f":1.29},{"t":9.4,"f":1.14},{"t":9.43,"f":1.42},{"t":9.46,"f":1.19},
{"t":9.52,"f":1.03},{"t":9.55,"f":1.3},{"t":9.58,"f":1.22},{"t":9.61,"f":1.12},{"t":9.64,"f":1.4},{"t":9.67,"f":0.98},{"t":9.7,"f":1.25},{"t":9.73,"f":1.35},{"t":9.76,"f":1.17},{"t":9.79,"f":1.44},{"t":9.82,"f":1.05},{"t":9.85,"f":1.27},{"t":9.88,"f":1.1},{"t":9.91,"f":1.37},{"t":9.94,"f":1.22},{"t":9.97,"f":1.0},
{"t":10.0,"f":1.29},{"t":10.03,"f":1.03},{"t":10.06,"f":1.37},{"t":10.09,"f":1.17},{"t":10.12,"f":0.93},{"t":10.15,"f":1.26},{"t":10.18,"f":1.1},{"t":10.21,"f":1.36},{"t":10.24,"f":1.0},{"t":10.27,"f":1.2},{"t":10.3,"f":1.31},{"t":10.33,"f":1.07},{"t":10.36,"f":1.41},{"t":10.39,"f":1.15},{"t":10.42,"f":0.97},{"t":10.45,"f":1.27},
{"t":10.51,"f":1.15},{"t":10.54,"f":1.35},{"t":10.57,"f":1.02},{"t":10.6,"f":1.24},{"t":10.63,"f":1.11},{"t":10.66,"f":0.94},{"t":10.69,"f":1.3},{"t":10.72,"f":1.18},{"t":10.75,"f":1.05},{"t":10.78,"f":1.27},{"t":10.81,"f":1.38},{"t":10.84,"f":0.99},{"t":10.87,"f":1.21},{"t":10.9,"f":1.08},{"t":10.93,"f":1.33},{"t":10.96,"f":1.12},
{"t":11.02,"f":0.98},{"t":11.05,"f":1.22},{"t":11.08,"f":1.15},{"t":11.11,"f":1.06},{"t":11.14,"f":1.31},{"t":11.17,"f":0.94},{"t":11.2,"f":1.18},{"t":11.23,"f":1.27},{"t":11.26,"f":1.1},{"t":11.29,"f":1.34},{"t":11.32,"f":1.0},{"t":11.35,"f":1.19},{"t":11.38,"f":1.04},{"t":11.41,"f":1.28},{"t":11.44,"f":1.15},{"t":11.47,"f":0.95},
{"t":11.5,"f":1.23},{"t":11.53,"f":1.0},{"t":11.56,"f":1.3},{"t":11.59,"f":1.12},{"t":11.62,"f":0.91},{"t":11.65,"f":1.2},{"t":11.68,"f":1.06},{"t":11.71,"f":1.29},{"t":11.74,"f":0.97},{"t":11.77,"f":1.15},{"t":11.8,"f":1.24},{"t":11.83,"f":1.03},{"t":11.86,"f":1.33},{"t":11.89,"f":1.11},{"t":11.92,"f":0.94},{"t":11.95,"f":1.21},
{"t":12.01,"f":1.1},{"t":12.04,"f":1.3},{"t":12.07,"f":0.97},{"t":12.1,"f":1.19},{"t":12.13,"f":1.06},{"t":12.16,"f":0.89},{"t":12.19,"f":1.25},{"t":12.22,"f":1.13},{"t":12.25,"f":1.0},{"t":12.28,"f":1.22},{"t":12.31,"f":1.33},{"t":12.34,"f":0.94},{"t":12.37,"f":1.16},{"t":12.4,"f":1.03},{"t":12.43,"f":1.28},{"t":12.46,"f":1.07},
{"t":12.52,"f":0.95},{"t":12.55,"f":1.19},{"t":12.58,"f":1.12},{"t":12.61,"f":1.03},{"t":12.64,"f":1.28},{"t":12.67,"f":0.91},{"t":12.7,"f":1.15},{"t":12.73,"f":1.24},{"t":12.76,"f":1.07},{"t":12.79,"f":1.31},{"t":12.82,"f":0.97},{"t":12.85,"f":1.16},{"t":12.88,"f":1.01},{"t":12.91,"f":1.25},{"t":12.94,"f":1.12},{"t":12.97,"f":0.92},
{"t":13.0,"f":1.19},{"t":13.03,"f":0.96},{"t":13.06,"f":1.26},{"t":13.09,"f":1.08},{"t":13.12,"f":0.87},{"t":13.15,"f":1.16},{"t":13.18,"f":1.02},{"t":13.21,"f":1.25},{"t":13.24,"f":0.93},{"t":13.27,"f":1.11},{"t":13.3,"f":1.2},{"t":13.33,"f":0.99},{"t":13.36,"f":1.29},{"t":13.39,"f":1.07},{"t":13.42,"f":0.9},{"t":13.45,"f":1.17},
{"t":13.51,"f":1.07},{"t":13.54,"f":1.27},{"t":13.57,"f":0.94},{"t":13.6,"f":1.16},{"t":13.63,"f":1.03},{"t":13.66,"f":0.86},{"t":13.69,"f":1.22},{"t":13.72,"f":1.1},{"t":13.75,"f":0.97},{"t":13.78,"f":1.19},{"t":13.81,"f":1.3},{"t":13.84,"f":0.91},{"t":13.87,"f":1.13},{"t":13.9,"f":1.0},{"t":13.93,"f":1.25},{"t":13.96,"f":1.04},
{"t":14.02,"f":0.91},{"t":14.05,"f":1.15},{"t":14.08,"f":1.08},{"t":14.11,"f":0.99},{"t":14.14,"f":1.24},{"t":14.17,"f":0.87},{"t":14.2,"f":1.11},{"t":14.23,"f":1.2},{"t":14.26,"f":1.03},{"t":14.29,"f":1.27},{"t":14.32,"f":0.93},{"t":14.35,"f":1.12},{"t":14.38,"f":0.97},{"t":14.41,"f":1.21},{"t":14.44,"f":1.08},{"t":14.47,"f":0.88},
{"t":14.5,"f":1.16},{"t":14.53,"f":0.93},{"t":14.56,"f":1.23},{"t":14.59,"f":1.05},{"t":14.62,"f":0.84},{"t":14.65,"f":1.13},{"t":14.68,"f":0.99},{"t":14.71,"f":1.22},{"t":14.74,"f":0.9},{"t":14.77,"f":1.08},{"t":14.8,"f":1.17},{"t":14.83,"f":0.96},{"t":14.86,"f":1.26},{"t":14.89,"f":1.04},{"t":14.92,"f":0.87},{"t":14.95,"f":1.14},
{"t":15.01,"f":1.04},{"t":15.04,"f":1.24},{"t":15.07,"f":0.91},{"t":15.1,"f":1.13},{"t":15.13,"f":1.0},{"t":15.16,"f":0.83},{"t":15.19,"f":1.19},{"t":15.22,"f":1.07},{"t":15.25,"f":0.94},{"t":15.28,"f":1.16},{"t":15.31,"f":1.27},{"t":15.34,"f":0.88},{"t":15.37,"f":1.1},{"t":15.4,"f":0.97},{"t":15.43,"f":1.22},{"t":15.46,"f":1.01},
{"t":15.52,"f":0.88},{"t":15.55,"f":1.12},{"t":15.58,"f":1.05},{"t":15.61,"f":0.96},{"t":15.64,"f":1.21},{"t":15.67,"f":0.84},{"t":15.7,"f":1.08},{"t":15.73,"f":1.17},{"t":15.76,"f":1.0},{"t":15.79,"f":1.24},{"t":15.82,"f":0.9},{"t":15.85,"f":1.09},{"t":15.88,"f":0.94},{"t":15.91,"f":1.18},{"t":15.94,"f":1.05},{"t":15.97,"f":0.85},
{"t":16.0,"f":1.14},{"t":16.03,"f":0.91},{"t":16.06,"f":1.21},{"t":16.09,"f":1.03},{"t":16.12,"f":0.82},{"t":16.15,"f":1.11},{"t":16.18,"f":0.97},{"t":16.21,"f":1.2},{"t":16.24,"f":0.88},{"t":16.27,"f":1.06},{"t":16.3,"f":1.15},{"t":16.33,"f":0.94},{"t":16.36,"f":1.24},{"t":16.39,"f":1.02},{"t":16.42,"f":0.85},{"t":16.45,"f":1.12},
{"t":16.51,"f":1.02},{"t":16.54,"f":1.22},{"t":16.57,"f":0.89},{"t":16.6,"f":1.11},{"t":16.63,"f":0.98},{"t":16.66,"f":0.81},{"t":16.69,"f":1.17},{"t":16.72,"f":1.05},{"t":16.75,"f":0.92},{"t":16.78,"f":1.14},{"t":16.81,"f":1.25},{"t":16.84,"f":0.86},{"t":16.87,"f":1.08},{"t":16.9,"f":0.95},{"t":16.93,"f":1.2},{"t":16.96,"f":0.99},
{"t":17.02,"f":0.87},{"t":17.05,"f":1.11},{"t":17.08,"f":1.04},{"t":17.11,"f":0.95},{"t":17.14,"f":1.2},{"t":17.17,"f":0.83},{"t":17.2,"f":1.07},{"t":17.23,"f":1.16},{"t":17.26,"f":0.99},{"t":17.29,"f":1.23},{"t":17.32,"f":0.89},{"t":17.35,"f":1.08},{"t":17.38,"f":0.93},{"t":17.41,"f":1.17},{"t":17.44,"f":1.04},{"t":17.47,"f":0.84},
{"t":17.5,"f":1.13},{"t":17.53,"f":0.9},{"t":17.56,"f":1.2},{"t":17.59,"f":1.02},{"t":17.62,"f":0.81},{"t":17.65,"f":1.1},{"t":17.68,"f":0.96},{"t":17.71,"f":1.19},{"t":17.74,"f":0.87},{"t":17.77,"f":1.05},{"t":17.8,"f":1.14},{"t":17.83,"f":0.93},{"t":17.86,"f":1.23},{"t":17.89,"f":1.01},{"t":17.92,"f":0.84},{"t":17.95,"f":1.11},
{"t":18.01,"f":1.02},{"t":18.04,"f":1.22},{"t":18.07,"f":0.89},{"t":18.1,"f":1.11},{"t":18.13,"f":0.98},{"t":18.16,"f":0.81},{"t":18.19,"f":1.17},{"t":18.22,"f":1.05},{"t":18.25,"f":0.92},{"t":18.28,"f":1.14},{"t":18.31,"f":1.25},{"t":18.34,"f":0.86},{"t":18.37,"f":1.08},{"t":18.4,"f":0.95},{"t":18.43,"f":1.2},{"t":18.46,"f":0.99},
{"t":18.52,"f":0.87},{"t":18.55,"f":1.11},{"t":18.58,"f":1.04},{"t":18.61,"f":0.95},{"t":18.64,"f":1.2},{"t":18.67,"f":0.83},{"t":18.7,"f":1.07},{"t":18.73,"f":1.16},{"t":18.76,"f":0.99},{"t":18.79,"f":1.23},{"t":18.82,"f":0.89},{"t":18.85,"f":1.08},{"t":18.88,"f":0.93},{"t":18.91,"f":1.17},{"t":18.94,"f":1.04},{"t":18.97,"f":0.84},
{"t":19.0,"f":1.11},{"t":19.03,"f":0.88},{"t":19.06,"f":1.18},{"t":19.09,"f":1.0},{"t":19.12,"f":0.79},{"t":19.15,"f":1.08},{"t":19.18,"f":0.94},{"t":19.21,"f":1.17},{"t":19.24,"f":0.85},{"t":19.27,"f":1.03},{"t":19.3,"f":1.12},{"t":19.33,"f":0.91},{"t":19.36,"f":1.21},{"t":19.39,"f":0.99},{"t":19.42,"f":0.82},{"t":19.45,"f":1.09},
{"t":19.51,"f":0.92},{"t":19.54,"f":1.12},{"t":19.57,"f":0.79},{"t":19.6,"f":1.01},{"t":19.63,"f":0.88},{"t":19.66,"f":0.71},{"t":19.69,"f":1.07},{"t":19.72,"f":0.95},{"t":19.75,"f":0.82},{"t":19.78,"f":1.04},{"t":19.81,"f":1.15},{"t":19.84,"f":0.76},{"t":19.87,"f":0.98},{"t":19.9,"f":0.85},{"t":19.93,"f":1.1},{"t":19.96,"f":0.89},
{"t":20.02,"f":0.7},{"t":20.05,"f":0.94},{"t":20.08,"f":0.87},{"t":20.11,"f":0.78},{"t":20.14,"f":1.03},{"t":20.17,"f":0.66},{"t":20.2,"f":0.9},{"t":20.23,"f":0.99},{"t":20.26,"f":0.82},{"t":20.29,"f":1.06},{"t":20.32,"f":0.72},
{"t":20.8,"f":1.81},{"t":20.83,"f":1.53},{"t":20.86,"f":1.91},{"t":20.89,"f":1.68},{"t":20.92,"f":1.41},{"t":20.95,"f":1.78},{"t":20.98,"f":1.6},{"t":21.01,"f":1.89},{"t":21.04,"f":1.49},{"t":21.07,"f":1.72},{"t":21.1,"f":1.83},{"t":21.13,"f":1.57},{"t":21.16,"f":1.95},{"t":21.19,"f":1.66},{"t":21.22,"f":1.45},{"t":21.25,"f":1.79},
{"t":21.31,"f":1.72},{"t":21.34,"f":1.97},{"t":21.37,"f":1.55},{"t":21.4,"f":1.83},{"t":21.43,"f":1.66},{"t":21.46,"f":1.45},{"t":21.49,"f":1.91},{"t":21.52,"f":1.76},{"t":21.55,"f":1.59},{"t":21.58,"f":1.87},{"t":21.61,"f":2.01},{"t":21.64,"f":1.51},{"t":21.67,"f":1.8},{"t":21.7,"f":1.63},{"t":21.73,"f":1.95},{"t":21.76,"f":1.68},
{"t":21.82,"f":1.47},{"t":21.85,"f":1.77},{"t":21.88,"f":1.68},{"t":21.91,"f":1.57},{"t":21.94,"f":1.89},{"t":21.97,"f":1.41},{"t":22.0,"f":1.72},{"t":22.03,"f":1.83},{"t":22.06,"f":1.62},{"t":22.09,"f":1.93},{"t":22.12,"f":1.49},{"t":22.15,"f":1.74},{"t":22.18,"f":1.55},{"t":22.21,"f":1.85},{"t":22.24,"f":1.68},{"t":22.27,"f":1.43},
{"t":22.3,"f":1.75},{"t":22.33,"f":1.47},{"t":22.36,"f":1.85},{"t":22.39,"f":1.62},{"t":22.42,"f":1.35},{"t":22.45,"f":1.72},{"t":22.48,"f":1.54},{"t":22.51,"f":1.83},{"t":22.54,"f":1.43},{"t":22.57,"f":1.66},{"t":22.6,"f":1.77},{"t":22.63,"f":1.51},{"t":22.66,"f":1.89},{"t":22.69,"f":1.6},{"t":22.72,"f":1.39},{"t":22.75,"f":1.73},
{"t":22.81,"f":1.6},{"t":22.84,"f":1.85},{"t":22.87,"f":1.43},{"t":22.9,"f":1.71},{"t":22.93,"f":1.54},{"t":22.96,"f":1.33},{"t":22.99,"f":1.79},{"t":23.02,"f":1.64},{"t":23.05,"f":1.47},{"t":23.08,"f":1.75},{"t":23.11,"f":1.89},{"t":23.14,"f":1.39},{"t":23.17,"f":1.68},{"t":23.2,"f":1.51},{"t":23.23,"f":1.83},{"t":23.26,"f":1.56},
{"t":23.32,"f":1.39},{"t":23.35,"f":1.69},{"t":23.38,"f":1.6},{"t":23.41,"f":1.49},{"t":23.44,"f":1.81},{"t":23.47,"f":1.33},{"t":23.5,"f":1.64},{"t":23.53,"f":1.75},{"t":23.56,"f":1.54},{"t":23.59,"f":1.85},{"t":23.62,"f":1.41},{"t":23.65,"f":1.66},{"t":23.68,"f":1.47},{"t":23.71,"f":1.77},{"t":23.74,"f":1.6},{"t":23.77,"f":1.35},
{"t":23.8,"f":1.69},{"t":23.83,"f":1.41},{"t":23.86,"f":1.79},{"t":23.89,"f":1.56},{"t":23.92,"f":1.29},{"t":23.95,"f":1.66},{"t":23.98,"f":1.48},{"t":24.01,"f":1.77},{"t":24.04,"f":1.37},{"t":24.07,"f":1.6},{"t":24.1,"f":1.71},{"t":24.13,"f":1.45},{"t":24.16,"f":1.83},{"t":24.19,"f":1.54},{"t":24.22,"f":1.33},{"t":24.25,"f":1.67},
{"t":24.31,"f":1.55},{"t":24.34,"f":1.8},{"t":24.37,"f":1.38},{"t":24.4,"f":1.66},{"t":24.43,"f":1.49},{"t":24.46,"f":1.28},{"t":24.49,"f":1.74},{"t":24.52,"f":1.59},{"t":24.55,"f":1.42},{"t":24.58,"f":1.7},{"t":24.61,"f":1.84},{"t":24.64,"f":1.34},{"t":24.67,"f":1.63},{"t":24.7,"f":1.46},{"t":24.73,"f":1.78},{"t":24.76,"f":1.51},
{"t":24.82,"f":1.36},{"t":24.85,"f":1.66},{"t":24.88,"f":1.57},{"t":24.91,"f":1.46},{"t":24.94,"f":1.78},{"t":24.97,"f":1.3},{"t":25.0,"f":1.61},{"t":25.03,"f":1.72},{"t":25.06,"f":1.51},{"t":25.09,"f":1.82},{"t":25.12,"f":1.38},{"t":25.15,"f":1.63},{"t":25.18,"f":1.44},{"t":25.21,"f":1.74},{"t":25.24,"f":1.57},{"t":25.27,"f":1.32},
{"t":25.3,"f":1.68},{"t":25.33,"f":1.4},{"t":25.36,"f":1.78},{"t":25.39,"f":1.55},{"t":25.42,"f":1.28},{"t":25.45,"f":1.65},{"t":25.48,"f":1.47},{"t":25.51,"f":1.76},{"t":25.54,"f":1.36},{"t":25.57,"f":1.59},{"t":25.6,"f":1.7},{"t":25.63,"f":1.44},{"t":25.66,"f":1.82},{"t":25.69,"f":1.53},{"t":25.72,"f":1.32},{"t":25.75,"f":1.66},
{"t":25.81,"f":1.55},{"t":25.84,"f":1.8},{"t":25.87,"f":1.38},{"t":25.9,"f":1.66},{"t":25.93,"f":1.49},{"t":25.96,"f":1.28},{"t":25.99,"f":1.74},{"t":26.02,"f":1.59},{"t":26.05,"f":1.42},{"t":26.08,"f":1.7},{"t":26.11,"f":1.84},{"t":26.14,"f":1.34},{"t":26.17,"f":1.63},{"t":26.2,"f":1.46},{"t":26.23,"f":1.78},{"t":26.26,"f":1.51},
{"t":26.32,"f":1.36},{"t":26.35,"f":1.66},{"t":26.38,"f":1.57},{"t":26.41,"f":1.46},{"t":26.44,"f":1.78},{"t":26.47,"f":1.3},{"t":26.5,"f":1.61},{"t":26.53,"f":1.72},{"t":26.56,"f":1.51},{"t":26.59,"f":1.82},{"t":26.62,"f":1.38},{"t":26.65,"f":1.63},{"t":26.68,"f":1.44},{"t":26.71,"f":1.74},{"t":26.74,"f":1.57},{"t":26.77,"f":1.32},
{"t":26.8,"f":1.7},{"t":26.83,"f":1.42},{"t":26.86,"f":1.8},{"t":26.89,"f":1.57},{"t":26.92,"f":1.3},{"t":26.95,"f":1.67},{"t":26.98,"f":1.49},{"t":27.01,"f":1.78},{"t":27.04,"f":1.38},{"t":27.07,"f":1.61},{"t":27.1,"f":1.72},{"t":27.13,"f":1.46},{"t":27.16,"f":1.84},{"t":27.19,"f":1.55},{"t":27.22,"f":1.34},{"t":27.25,"f":1.68},
{"t":27.31,"f":1.6},{"t":27.34,"f":1.85},{"t":27.37,"f":1.43},{"t":27.4,"f":1.71},{"t":27.43,"f":1.54},{"t":27.46,"f":1.33},{"t":27.49,"f":1.79},{"t":27.52,"f":1.64},{"t":27.55,"f":1.47},{"t":27.58,"f":1.75},{"t":27.61,"f":1.89},{"t":27.64,"f":1.39},{"t":27.67,"f":1.68},{"t":27.7,"f":1.51},{"t":27.73,"f":1.83},{"t":27.76,"f":1.56},
{"t":27.82,"f":1.43},{"t":27.85,"f":1.73},{"t":27.88,"f":1.64},{"t":27.91,"f":1.53},{"t":27.94,"f":1.85},{"t":27.97,"f":1.37},{"t":28.0,"f":1.68},{"t":28.03,"f":1.79},{"t":28.06,"f":1.58},{"t":28.09,"f":1.89},{"t":28.12,"f":1.45},{"t":28.15,"f":1.7},{"t":28.18,"f":1.51},{"t":28.21,"f":1.81},{"t":28.24,"f":1.64},{"t":28.27,"f":1.39},
{"t":28.3,"f":1.75},{"t":28.33,"f":1.47},{"t":28.36,"f":1.85},{"t":28.39,"f":1.62},{"t":28.42,"f":1.35},{"t":28.45,"f":1.72},{"t":28.48,"f":1.54},{"t":28.51,"f":1.83},{"t":28.54,"f":1.43},{"t":28.57,"f":1.66},{"t":28.6,"f":1.77},{"t":28.63,"f":1.51},{"t":28.66,"f":1.89},{"t":28.69,"f":1.6},{"t":28.72,"f":1.39},{"t":28.75,"f":1.73},
{"t":28.81,"f":1.6},{"t":28.84,"f":1.85},{"t":28.87,"f":1.43},{"t":28.9,"f":1.71},{"t":28.93,"f":1.54},{"t":28.96,"f":1.33},{"t":28.99,"f":1.79},{"t":29.02,"f":1.64},{"t":29.05,"f":1.47},{"t":29.08,"f":1.75},{"t":29.11,"f":1.89},{"t":29.14,"f":1.39},{"t":29.17,"f":1.68},{"t":29.2,"f":1.51},{"t":29.23,"f":1.83},{"t":29.26,"f":1.56},
{"t":29.32,"f":1.41},{"t":29.35,"f":1.71},{"t":29.38,"f":1.62},{"t":29.41,"f":1.51},{"t":29.44,"f":1.83},{"t":29.47,"f":1.35},{"t":29.5,"f":1.66},{"t":29.53,"f":1.77},{"t":29.56,"f":1.56},{"t":29.59,"f":1.87},{"t":29.62,"f":1.43},{"t":29.65,"f":1.68},{"t":29.68,"f":1.49},{"t":29.71,"f":1.79},{"t":29.74,"f":1.62},{"t":29.77,"f":1.37},
{"t":29.8,"f":1.73},{"t":29.83,"f":1.45},{"t":29.86,"f":1.83},{"t":29.89,"f":1.6},{"t":29.92,"f":1.33},{"t":29.95,"f":1.7},{"t":29.98,"f":1.52},{"t":30.01,"f":1.81},{"t":30.04,"f":1.41},{"t":30.07,"f":1.64},{"t":30.1,"f":1.75},
{"t":4.78,"f":2.3},{"t":5.62,"f":2.19},{"t":6.36,"f":2.0},{"t":5.9,"f":2.05},{"t":6.9,"f":1.92},{"t":7.6,"f":1.82},{"t":8.6,"f":1.78},{"t":9.2,"f":1.7},{"t":10.64,"f":1.56},{"t":11.3,"f":1.6},{"t":12.57,"f":1.59},{"t":13.4,"f":1.52},{"t":14.84,"f":1.72},{"t":14.95,"f":1.62},{"t":15.6,"f":1.5},{"t":16.2,"f":1.55},{"t":17.1,"f":1.48},{"t":18.2,"f":1.5},{"t":19.1,"f":1.55},{"t":19.3,"f":1.63},{"t":19.45,"f":1.6},
{"t":5.32,"f":0.68},{"t":5.46,"f":0.72},{"t":5.2,"f":0.9},{"t":6.2,"f":0.85},{"t":6.8,"f":0.8},{"t":7.9,"f":0.78},{"t":8.8,"f":0.75},{"t":9.58,"f":0.66},{"t":10.4,"f":0.7},{"t":11.2,"f":0.68},{"t":11.8,"f":0.62},{"t":12.93,"f":0.63},{"t":13.5,"f":0.58},{"t":14.04,"f":0.56},{"t":14.8,"f":0.57},{"t":15.3,"f":0.62},{"t":16.4,"f":0.6},{"t":17.18,"f":0.51},{"t":17.27,"f":0.48},{"t":17.9,"f":0.6},{"t":18.7,"f":0.55},{"t":19.3,"f":0.5},{"t":19.85,"f":0.47},{"t":19.95,"f":0.55},{"t":20.1,"f":0.5},
{"t":20.9,"f":2.07},{"t":21.5,"f":2.21},{"t":21.7,"f":2.2},{"t":22.4,"f":2.1},{"t":23.0,"f":2.05},{"t":24.0,"f":2.12},{"t":25.5,"f":2.08},{"t":26.2,"f":2.0},{"t":27.5,"f":2.1},{"t":28.0,"f":2.12},{"t":28.6,"f":2.16},{"t":29.0,"f":2.08},{"t":29.73,"f":2.23},{"t":29.9,"f":2.1},{"t":30.05,"f":2.05},
{"t":21.15,"f":1.26},{"t":22.7,"f":1.18},{"t":23.95,"f":1.14},{"t":24.6,"f":1.1},{"t":25.2,"f":1.15},{"t":26.0,"f":1.12},{"t":26.86,"f":0.94},{"t":27.2,"f":1.1},{"t":27.9,"f":1.08},{"t":28.5,"f":1.13},{"t":29.1,"f":1.1},{"t":29.8,"f":1.08},{"t":30.05,"f":1.2}
]},
"mark":{"type":"circle","size":380,"color":"#A6A6A6","opacity":1,"clip":false},
"encoding":{
"y":{"field":"f","type":"quantitative","scale":{"domain":[0,6],"nice":false},"axis":{"values":[0,1,2,3,4,5,6],"title":"Force [kN]","labelPadding":68,"titleX":-229.5,"titleY":568.5,"titleAngle":270,"titleBaseline":"top","titleAlign":"center"}}
}
},
{
"encoding":{
"y":{"field":"T","type":"quantitative","scale":{"domain":[0,500],"nice":false},"axis":{"orient":"right","values":[0,100,200,300,400,500],"title":"Temperature [°C]","labelPadding":70,"titleX":239.5,"titleY":568.5,"titleAngle":270,"titleBaseline":"top","titleAlign":"center"}}
},
"layer":[
{
"data":{"values":[
{"t":0,"T":20.3},{"t":0.5,"T":20.4},{"t":1.0,"T":20.6},{"t":1.5,"T":21},{"t":2.0,"T":21.7},{"t":2.4,"T":22.6},{"t":2.7,"T":24},{"t":3.0,"T":28},{"t":3.3,"T":35},{"t":3.6,"T":45.5},{"t":3.9,"T":59},{"t":4.26,"T":77},{"t":4.6,"T":92},{"t":5.0,"T":106},{"t":5.54,"T":122},{"t":6.0,"T":135},{"t":6.4,"T":145.5},{"t":6.8,"T":155},{"t":7.2,"T":164},{"t":7.6,"T":172},{"t":8.0,"T":179.5},{"t":8.5,"T":188},{"t":9.0,"T":196},{"t":9.5,"T":203.5},{"t":10.0,"T":211},{"t":10.5,"T":218},{"t":11.0,"T":224},{"t":11.5,"T":230},{"t":12.1,"T":236},{"t":12.7,"T":242},{"t":13.4,"T":248.5},{"t":14.0,"T":253.5},{"t":14.63,"T":258.5},{"t":15.3,"T":263},{"t":16.0,"T":267.5},{"t":16.6,"T":271.5},{"t":17.17,"T":275},{"t":17.8,"T":279},{"t":18.44,"T":283},{"t":19.0,"T":286.5},{"t":19.43,"T":289.3},{"t":19.9,"T":292.2},{"t":20.38,"T":295},{"t":21.0,"T":298.6},{"t":21.75,"T":302.9},{"t":22.4,"T":308.5},{"t":23.1,"T":317},{"t":23.6,"T":324.5},{"t":24.2,"T":333},{"t":24.9,"T":342},{"t":25.55,"T":350.3},{"t":26.2,"T":358},{"t":26.9,"T":365.5},{"t":27.6,"T":372},{"t":28.3,"T":377.8},{"t":29.2,"T":384.5},{"t":30,"T":390}
]},
"mark":{"type":"line","color":"#FF0000","strokeWidth":21,"strokeCap":"round","strokeJoin":"round","interpolate":"monotone","clip":false},
"encoding":{}
},
{
"data":{"values":[{"t":12.83,"T":335.5,"t2":18.44,"T2":285}]},
"mark":{"type":"rule","color":"#FF0000","strokeWidth":7,"clip":false},
"encoding":{"x2":{"field":"t2"},"y2":{"field":"T2"}}
},
{
"data":{"values":[{"t":20.38,"T":504,"t2":20.54,"T2":5}]},
"mark":{"type":"rule","color":"#0E5597","strokeWidth":10,"strokeDash":[35,28],"strokeDashOffset":21,"clip":false},
"encoding":{"x2":{"field":"t2"},"y2":{"field":"T2"}}
},
{
"data":{"values":[{"t":5.09,"T":457,"label":"v"},{"t":21.7,"T":457,"label":"v"}]},
"mark":{"type":"text","align":"right","baseline":"alphabetic","font":"Liberation Serif","fontStyle":"italic","fontSize":89,"color":"#000000"},
"encoding":{"text":{"field":"label"}}
},
{
"data":{"values":[{"t":5.09,"T":457,"label":"= 0.25 mm/s"},{"t":21.7,"T":457,"label":"= 1 mm/s"}]},
"mark":{"type":"text","align":"left","baseline":"alphabetic","font":"Liberation Sans","fontSize":89,"color":"#000000"},
"encoding":{"text":{"field":"label"}}
},
{
"data":{"values":[{"t":6.55,"T":361.5,"label":"Temperature"}]},
"mark":{"type":"text","align":"left","baseline":"alphabetic","font":"Liberation Sans","fontSize":90,"color":"#FF0000"},
"encoding":{"text":{"field":"label"}}
},
{
"data":{"values":[{"t":12.55,"T":173.3,"label":"F"}]},
"mark":{"type":"text","align":"left","baseline":"alphabetic","font":"Liberation Serif","fontStyle":"italic","fontSize":94,"color":"#A6A6A6"},
"encoding":{"text":{"field":"label"}}
},
{
"data":{"values":[{"t":13.86,"T":163.7,"label":"Frictional"}]},
"mark":{"type":"text","align":"left","baseline":"alphabetic","font":"Liberation Sans","fontSize":59,"color":"#A6A6A6"},
"encoding":{"text":{"field":"label"}}
}
]
}
],
"resolve":{"scale":{"y":"independent"}}
}
